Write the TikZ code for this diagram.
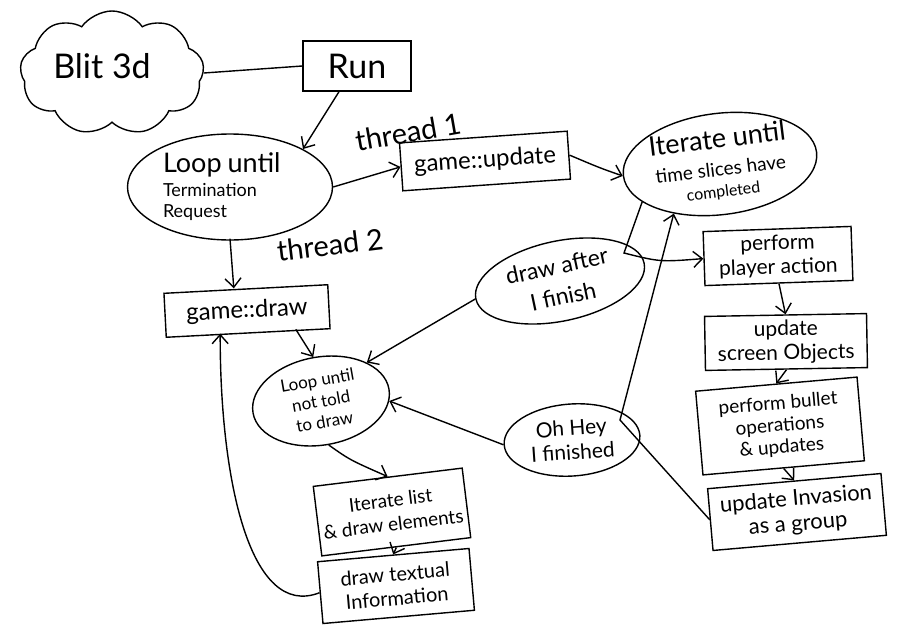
\documentclass[tikz,border=0pt]{standalone}
\usepackage{fontspec}
\setmainfont{Lato}
\usetikzlibrary{shapes.geometric,shapes.symbols,arrows.meta}
\newcommand{\fs}[2]{\fontsize{#1}{#2}\selectfont}
\begin{document}
\begin{tikzpicture}[x=1pt,y=-1pt,
  ink/.style={line width=1.4pt,black},
  box/.style={ink,draw,rectangle,inner sep=2pt,align=center},
  oval/.style={ink,draw,ellipse,inner sep=0pt,align=center},
  flow/.style={ink,-{Straight Barb[length=9pt,width=16pt,line width=1.4pt]}},
  plain/.style={ink},
  lbl/.style={font=\fs{29}{29}}
]
\useasboundingbox (0,0) rectangle (914,632);

% ---- main thread ----
\node[ink,draw,cloud,cloud puffs=9,cloud puff arc=110,aspect=1.5,
      minimum width=184pt,minimum height=124pt] (blit) at (112,73) {};
\node[font=\fs{34}{34}] (blittxt) at (102,66) {Blit 3d};
\node[box,minimum width=108pt,minimum height=50pt,font=\fs{34}{34}] (run) at (357,66) {Run};
\node[oval,minimum width=205pt,minimum height=106pt,align=left,font=\fs{18}{21},
      text width=134pt] (loopA) at (230,187)
  {{\fs{27}{27}Loop until}\\[3pt]Termination\\Request};

% ---- thread 1: update ----
\node[box,minimum width=168pt,minimum height=48pt,rotate=4,font=\fs{24}{24}] (gupd) at (485,161) {game::update};
\node[oval,minimum width=174pt,minimum height=98pt,rotate=7,font=\fs{19}{21}] (iter) at (720,164)
  {{\fs{27}{27}Iterate until}\\[7pt]time slices have\\{\fs{16}{16}completed}};
\node[box,minimum width=148pt,minimum height=54pt,rotate=2,font=\fs{21}{24}] (ppa) at (778,256) {perform\\player action};
\node[box,minimum width=162pt,minimum height=54pt,rotate=1,font=\fs{21}{24}] (uso) at (786,342) {update\\screen Objects};
\node[box,minimum width=162pt,minimum height=84pt,rotate=5,font=\fs{19}{22}] (pbo) at (780,426) {perform bullet\\operations\\\& updates};
\node[box,minimum width=174pt,minimum height=62pt,rotate=5,font=\fs{22}{25}] (uig) at (797,512) {update Invasion\\as a group};
\node[oval,minimum width=172pt,minimum height=80pt,rotate=12,font=\fs{23}{31}] (daf) at (560,281) {draw after\\I finish};
\node[oval,minimum width=136pt,minimum height=72pt,rotate=4,font=\fs{21}{24}] (ohey) at (572,440) {Oh Hey\\I finished};

% ---- thread 2: draw ----
\node[box,minimum width=164pt,minimum height=44pt,rotate=3,font=\fs{24}{24}] (gdraw) at (247,311) {game::draw};
\node[oval,minimum width=138pt,minimum height=88pt,rotate=10,font=\fs{17}{21}] (loopB) at (321,401) {Loop until\\not told\\to draw};
\node[box,minimum width=150pt,minimum height=70pt,rotate=7,font=\fs{19}{24}] (itl) at (392,512) {Iterate list\\\& draw elements};
\node[box,minimum width=152pt,minimum height=62pt,rotate=5,font=\fs{20}{24}] (dti) at (396,586) {draw textual\\Information};

% ---- labels of the two threads ----
\node[lbl,rotate=10] (t1) at (408,132) {thread 1};
\node[lbl,rotate=7] (t2) at (330,245) {thread 2};

% ---- bends ----
\coordinate (bendA) at (624,253);
\coordinate (kinkB) at (620,420);

% ---- connectors ----
\draw[plain] (blit.east) -- (run.west);
\draw[flow] ([xshift=-18pt]run.south) -- (loopA.north east);
\draw[flow] (loopA.east) -- (gupd.west);
\draw[flow] ([yshift=2pt]loopA.south) -- ([xshift=-12pt]gdraw.north);
\draw[flow] (gupd.east) .. controls (600,168) .. (iter.west);
\draw[flow] (iter.199) -- (bendA) .. controls (660,262) .. (ppa.west);
\draw[flow] (uig.west) -- (kinkB) -- (iter.220);
\draw[flow] (ppa.south) -- (uso.north);
\draw[flow] (uso.south) -- (pbo.north);
\draw[flow] (pbo.south) -- (uig.north);
\draw[flow] (daf.west) -- (loopB.30);
\draw[flow] (ohey.west) -- (loopB.-10);
\draw[flow] ([xshift=-35pt]gdraw.south east) -- (loopB.north);
\draw[flow] (loopB.south) .. controls (350,460) .. (itl.north);
\draw[flow] (itl.south) -- (dti.north);
\draw[flow] (dti.west) .. controls (250,620) and (220,480) .. ([xshift=-28pt]gdraw.south);
\end{tikzpicture}
\end{document}
